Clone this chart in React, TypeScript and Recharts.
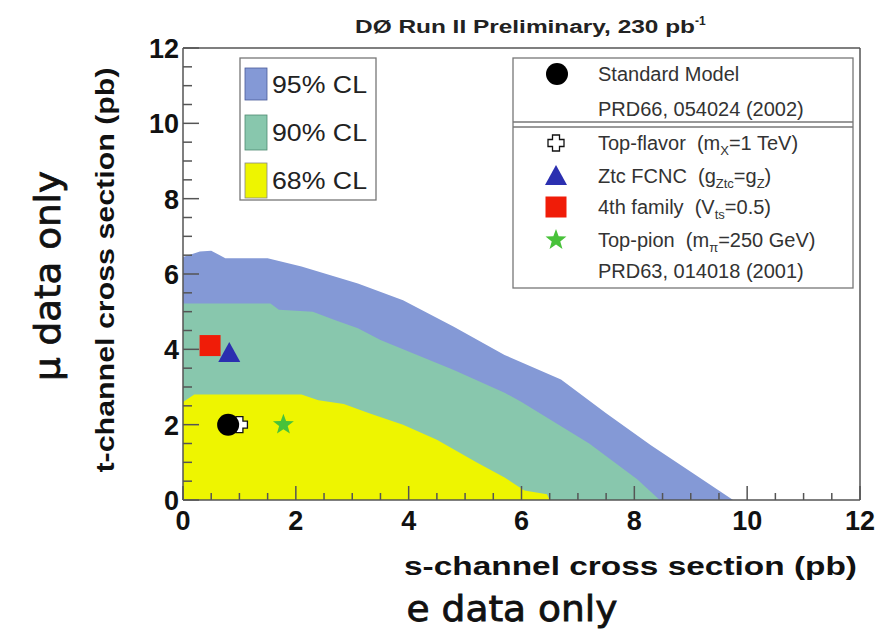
import { ComposedChart, Area, Scatter, XAxis, YAxis, ReferenceLine } from 'recharts';

// contour upper edges (s-channel pb, t-channel pb)
const cl95 = [
  { s: 0, t: 6.45 }, { s: 0.3, t: 6.6 }, { s: 0.5, t: 6.62 }, { s: 0.75, t: 6.42 },
  { s: 1.5, t: 6.42 }, { s: 2.1, t: 6.2 }, { s: 3.1, t: 5.75 }, { s: 3.9, t: 5.3 },
  { s: 4.8, t: 4.6 }, { s: 5.7, t: 3.85 }, { s: 6.7, t: 3.2 }, { s: 7.5, t: 2.3 },
  { s: 8.3, t: 1.45 }, { s: 9.0, t: 0.75 }, { s: 9.75, t: 0 },
];
const cl90 = [
  { s: 0, t: 5.22 }, { s: 1.55, t: 5.22 }, { s: 1.7, t: 5.05 }, { s: 2.3, t: 5.0 },
  { s: 2.7, t: 4.77 }, { s: 3.1, t: 4.56 }, { s: 3.5, t: 4.25 }, { s: 4.8, t: 3.45 },
  { s: 5.7, t: 2.85 }, { s: 6.0, t: 2.6 }, { s: 7.2, t: 1.5 }, { s: 8.05, t: 0.55 },
  { s: 8.45, t: 0 },
];
const cl68 = [
  { s: 0, t: 2.6 }, { s: 0.2, t: 2.8 }, { s: 2.1, t: 2.8 }, { s: 2.4, t: 2.65 },
  { s: 2.85, t: 2.55 }, { s: 3.3, t: 2.3 }, { s: 3.9, t: 2.0 }, { s: 4.5, t: 1.6 },
  { s: 5.2, t: 1.0 }, { s: 5.7, t: 0.6 }, { s: 6.05, t: 0.25 }, { s: 6.45, t: 0.15 },
  { s: 6.5, t: 0 },
];

// model predictions
const standardModel = [{ s: 0.8, t: 2.0 }];
const topFlavor = [{ s: 1.0, t: 2.0 }];
const ztcFcnc = [{ s: 0.82, t: 3.9 }];
const fourthFamily = [{ s: 0.48, t: 4.1 }];
const topPion = [{ s: 1.78, t: 2.0 }];

const ticks = [0, 0.5, 1, 1.5, 2, 2.5, 3, 3.5, 4, 4.5, 5, 5.5, 6, 6.5, 7, 7.5, 8, 8.5, 9, 9.5, 10, 10.5, 11, 11.5, 12];
const majorTicks = [0, 2, 4, 6, 8, 10, 12];

const BLUE = '#8499d6';
const GREEN = '#88c7ad';
const YELLOW = '#eef500';
const AXIS = '#555';
const FONT = '"Liberation Sans", Arial, sans-serif';
const SP = '\u00a0\u00a0';

const XTick = ({ x, y, payload }: any) => {
  const major = majorTicks.includes(payload.value);
  return (
    <g>
      <line x1={x} y1={y} x2={x} y2={y - (major ? 14 : 7)} stroke={AXIS} strokeWidth={1.5} />
      {major && (
        <text x={x} y={y + 30} textAnchor="middle" fontFamily={FONT} fontWeight="bold" fontSize={27} fill="#111">
          {payload.value}
        </text>
      )}
    </g>
  );
};

const YTick = ({ x, y, payload }: any) => {
  const major = majorTicks.includes(payload.value);
  return (
    <g>
      <line x1={x} y1={y} x2={x + (major ? 16 : 9)} y2={y} stroke={AXIS} strokeWidth={1.5} />
      {major && (
        <text x={x - 4} y={y + 10} textAnchor="end" fontFamily={FONT} fontWeight="bold" fontSize={27} fill="#111">
          {payload.value}
        </text>
      )}
    </g>
  );
};

const Dot = ({ cx, cy }: any) => <circle cx={cx} cy={cy} r={11} fill="#000" />;
const Plus = ({ cx, cy }: any) => (
  <path
    d={`M${cx - 3.5},${cy - 8} h7 v4.5 h4.5 v7 h-4.5 v4.5 h-7 v-4.5 h-4.5 v-7 h4.5 z`}
    fill="#fff" stroke="#111" strokeWidth={1.3}
  />
);
const Tri = ({ cx, cy }: any) => (
  <path d={`M${cx},${cy - 11} L${cx + 11},${cy + 9} L${cx - 11},${cy + 9} z`} fill="#2b2fb0" />
);
const Sq = ({ cx, cy }: any) => <rect x={cx - 10.5} y={cy - 10.5} width={21} height={21} fill="#f01c08" />;
const starPath = (cx: number, cy: number, ro: number, ri: number) => {
  let d = '';
  for (let i = 0; i < 10; i++) {
    const r = i % 2 === 0 ? ro : ri;
    const a = (Math.PI / 5) * i - Math.PI / 2;
    d += `${i === 0 ? 'M' : 'L'}${cx + r * Math.cos(a)},${cy + r * Math.sin(a)} `;
  }
  return d + 'z';
};
const Star = ({ cx, cy }: any) => <path d={starPath(cx, cy, 11, 4.5)} fill="#48c23a" />;

const Sub = ({ children }: { children: string }) => (
  <tspan fontSize={13} dy={5}>{children}</tspan>
);

export default function App() {
  return (
    <div style={{ position: 'absolute', left: 0, top: 0, width: 889, height: 632, background: '#fff' }}>
      <ComposedChart width={889} height={632} margin={{ top: 48, right: 29, bottom: 72, left: 123 }}>
        <Area data={cl95} dataKey="t" type="linear" fill={BLUE} fillOpacity={1} stroke="none" isAnimationActive={false} />
        <Area data={cl90} dataKey="t" type="linear" fill={GREEN} fillOpacity={1} stroke="none" isAnimationActive={false} />
        <Area data={cl68} dataKey="t" type="linear" fill={YELLOW} fillOpacity={1} stroke="none" isAnimationActive={false} />
        <XAxis
          type="number" dataKey="s" domain={[0, 12]} ticks={ticks} height={60}
          tickSize={0} tickMargin={0} tickLine={false} tick={<XTick />}
          axisLine={{ stroke: AXIS, strokeWidth: 1.5 }} interval={0} allowDataOverflow
        />
        <YAxis
          type="number" dataKey="t" domain={[0, 12]} ticks={ticks} width={60}
          tickSize={0} tickMargin={0} tickLine={false} tick={<YTick />}
          axisLine={{ stroke: AXIS, strokeWidth: 1.5 }} interval={0} allowDataOverflow
        />
        <ReferenceLine y={12} stroke={AXIS} strokeWidth={1.5} />
        <ReferenceLine x={12} stroke={AXIS} strokeWidth={1.5} />
        <Scatter data={topFlavor} dataKey="t" shape={<Plus />} isAnimationActive={false} />
        <Scatter data={standardModel} dataKey="t" shape={<Dot />} isAnimationActive={false} />
        <Scatter data={ztcFcnc} dataKey="t" shape={<Tri />} isAnimationActive={false} />
        <Scatter data={fourthFamily} dataKey="t" shape={<Sq />} isAnimationActive={false} />
        <Scatter data={topPion} dataKey="t" shape={<Star />} isAnimationActive={false} />
      </ComposedChart>

      <svg width={889} height={632} style={{ position: 'absolute', left: 0, top: 0, pointerEvents: 'none' }}>
        <text x={355} y={33} fontFamily={FONT} fontWeight="bold" fontSize={18} fill="#222">
          <tspan textLength={340} lengthAdjust="spacingAndGlyphs">DØ Run II Preliminary, 230 pb</tspan>
          <tspan fontSize={12} dy={-8}>-1</tspan>
        </text>

        <text transform="translate(114,270) rotate(-90)" textAnchor="middle" fontFamily={FONT} fontWeight="bold" fontSize={25}
          fill="#111" textLength={405} lengthAdjust="spacingAndGlyphs">
          t-channel cross section (pb)
        </text>
        <text transform="translate(60,276) rotate(-90)" textAnchor="middle" fontFamily='"DejaVu Sans", sans-serif' fontSize={36}
          fill="#111" stroke="#111" strokeWidth={0.8} textLength={210} lengthAdjust="spacingAndGlyphs">
          μ data only
        </text>
        <text x={857} y={575} textAnchor="end" fontFamily={FONT} fontWeight="bold" fontSize={25} fill="#111"
          textLength={453} lengthAdjust="spacingAndGlyphs">
          s-channel cross section (pb)
        </text>
        <text x={512} y={621} textAnchor="middle" fontFamily='"DejaVu Sans", sans-serif' fontSize={36} fill="#111"
          stroke="#111" strokeWidth={0.8} textLength={211} lengthAdjust="spacingAndGlyphs">
          e data only
        </text>

        {/* confidence level legend */}
        <rect x={240} y={58} width={136} height={142} fill="#fff" stroke="#777" strokeWidth={1.3} />
        <rect x={245} y={68} width={22} height={32} fill={BLUE} stroke="#4a5a9a" strokeWidth={0.8} />
        <rect x={245} y={115} width={22} height={35} fill={GREEN} stroke="#4f8a70" strokeWidth={0.8} />
        <rect x={245} y={163} width={22} height={35} fill={YELLOW} stroke="#888" strokeWidth={0.8} />
        <g fontFamily={FONT} fontSize={23} fill="#222">
          <text x={272} y={93} textLength={95} lengthAdjust="spacingAndGlyphs">95% CL</text>
          <text x={272} y={141} textLength={95} lengthAdjust="spacingAndGlyphs">90% CL</text>
          <text x={272} y={189} textLength={95} lengthAdjust="spacingAndGlyphs">68% CL</text>
        </g>

        {/* model legend */}
        <rect x={513} y={58} width={340} height={230} fill="#fff" stroke="#777" strokeWidth={1.3} />
        <line x1={513} y1={122} x2={853} y2={122} stroke="#777" strokeWidth={1.3} />
        <line x1={513} y1={127} x2={853} y2={127} stroke="#777" strokeWidth={1.3} />
        <Dot cx={557} cy={74} />
        <Plus cx={556} cy={143} />
        <Tri cx={556} cy={176} />
        <Sq cx={556} cy={207} />
        <Star cx={556} cy={240} />
        <g fontFamily={FONT} fontSize={20} fill="#333">
          <text x={598} y={81}>Standard Model</text>
          <text x={598} y={116}>PRD66, 054024 (2002)</text>
          <text x={598} y={150}>
            {`Top-flavor${SP}(m`}<Sub>X</Sub><tspan dy={-5}>=1 TeV)</tspan>
          </text>
          <text x={598} y={183}>
            {`Ztc FCNC${SP}(g`}<Sub>Ztc</Sub><tspan dy={-5}>=g</tspan><Sub>Z</Sub><tspan dy={-5}>)</tspan>
          </text>
          <text x={598} y={214}>
            {`4th family${SP}(V`}<Sub>ts</Sub><tspan dy={-5}>=0.5)</tspan>
          </text>
          <text x={598} y={247}>
            {`Top-pion${SP}(m`}<Sub>π</Sub><tspan dy={-5}>=250 GeV)</tspan>
          </text>
          <text x={598} y={278}>PRD63, 014018 (2001)</text>
        </g>
      </svg>
    </div>
  );
}
